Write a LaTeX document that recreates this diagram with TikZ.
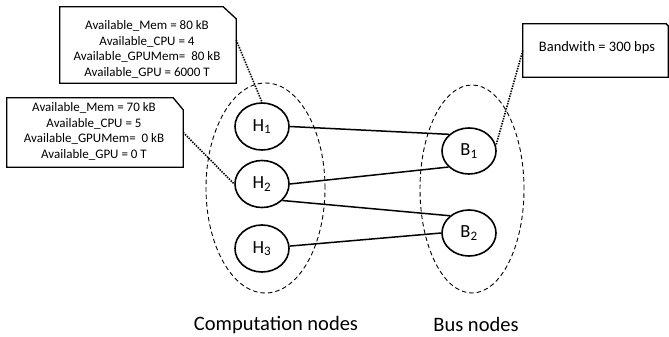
\documentclass[tikz,border=0pt]{standalone}
\usepackage{fontspec}
\setmainfont{Carlito}
\usetikzlibrary{shapes.geometric}
\begin{document}
\begin{tikzpicture}[x=1pt,y=-1pt,
  host/.style={ellipse, draw, line width=1.6pt, minimum width=54pt, minimum height=47pt, inner sep=0pt, font=\fontsize{18.5}{20}\selectfont},
  group/.style={ellipse, draw, dash pattern=on 4.5pt off 3pt, line width=0.9pt, inner sep=0pt},
  link/.style={line width=1.5pt},
  callout/.style={line width=1.6pt, dash pattern=on 1.4pt off 1.2pt},
  frame/.style={rectangle, inner sep=0pt},
  infotext/.style={inner sep=0pt, align=center, font=\fontsize{13}{15.7}\selectfont},
  boxline/.style={line width=1.3pt},
  caption/.style={font=\fontsize{20.5}{24}\selectfont, anchor=base}
]
\useasboundingbox (0,0) rectangle (669,337);

% info boxes
\node[frame, minimum width=176pt, minimum height=76pt] (box1) at (148,45) {};
\node[infotext] (t1) at (147,49.5)
  {Available\_Mem = 80 kB\\Available\_CPU = 4\\Available\_GPUMem=~ 80 kB\\Available\_GPU = 6000 T};
\draw[boxline] (box1.south west) -- (box1.north west) -- ([xshift=-13pt]box1.north east)
  -- ([yshift=-12pt]box1.north east) -- (box1.south east) -- cycle;

\node[frame, minimum width=176pt, minimum height=69pt] (box2) at (95,132.5) {};
\node[infotext] (t2) at (94,131.5)
  {Available\_Mem = 70 kB\\Available\_CPU = 5\\Available\_GPUMem=~ 0 kB\\Available\_GPU = 0 T};
\draw[boxline] (box2.south west) -- (box2.north west) -- ([xshift=-10pt]box2.north east)
  -- ([yshift=-12pt]box2.north east) -- (box2.south east) -- cycle;

\node[frame, minimum width=145pt, minimum height=53pt] (box3) at (595.5,50.5) {};
\node[infotext, font=\fontsize{14.5}{17}\selectfont] (t3) at (597,47.5) {Bandwith = 300 bps};
\draw[boxline] (box3.south west) -- (box3.north west) -- ([xshift=-2pt]box3.north east)
  -- ([yshift=-2pt]box3.north east) -- (box3.south east) -- cycle;

% groups
\node[group, minimum width=119pt, minimum height=210pt] (gH) at (265.5,188) {};
\node[group, minimum width=104pt, minimum height=208pt] (gB) at (472,189) {};

% hosts
\node[host] (H1) at (262,126.5) {H\textsubscript{1}};
\node[host] (H2) at (262,184) {H\textsubscript{2}};
\node[host] (H3) at (262,248.5) {H\textsubscript{3}};
\node[host, minimum height=46pt] (B1) at (469,151) {B\textsubscript{1}};
\node[host, minimum height=46pt] (B2) at (469,233) {B\textsubscript{2}};

% links
\draw[link] (H1.east) -- (B1.140);
\draw[link] (H2.east) -- (B1.218);
\draw[link] (H2.-39) -- (B2.138);
\draw[link] (H3.5) -- (B2.west);

% callouts
\draw[callout] ([yshift=5pt]box1.east) -- (H1.north);
\draw[callout] (box2.east) -- (H2.west);
\draw[callout] (box3.west) -- (B1.12);

% captions
\node[caption] (capH) at (276,330) {Computation nodes};
\node[caption] (capB) at (476,331.5) {Bus nodes};
\end{tikzpicture}
\end{document}
